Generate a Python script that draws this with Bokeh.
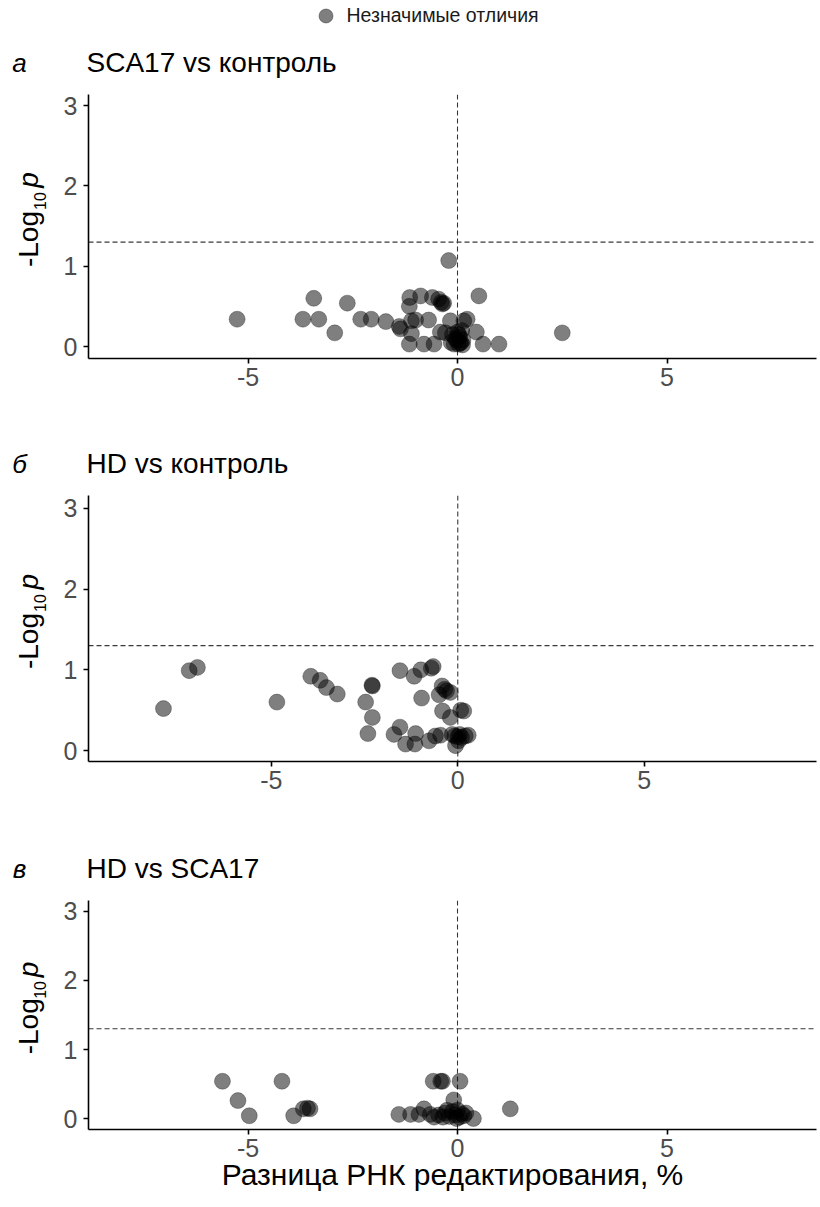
import math
from bokeh.plotting import figure
from bokeh.models import Range1d, Span, FixedTicker, Legend, LegendItem, Title
from bokeh.layouts import column, row
from bokeh.core.properties import value
from bokeh.embed import file_html
from bokeh.resources import INLINE

# ---------------- data ----------------
panel_letters = ["а", "б", "в"]
panel_titles = ["SCA17 vs контроль", "HD vs контроль", "HD vs SCA17"]
legend_label = "Незначимые отличия"
x_axis_title = "Разница РНК редактирования, %"
y_title_main = "-Log"
y_title_sub = "10"
y_title_var = "p"
x_ticks = [-5, 0, 5]
y_ticks = [0, 1, 2, 3]
p_threshold = 1.3  # -log10(0.05)

sca17_ctrl_diff = [-5.26, -3.43, -3.69, -3.31, -2.93, -2.63, -2.31, -2.06, -1.71, -1.39,
                   -1.36, -1.14, -1.15, -1.10, -1.00, -1.10, -1.15, -0.88, -0.80, -0.69,
                   -0.60, -0.56, -0.45, -0.39, -0.36, -0.33, -0.21, -0.17, -0.41, -0.29,
                   -0.08, -0.02, 0.02, 0.05, 0.08, 0.12, 0.15, 0.23, -0.12, 0.00,
                   0.10, 0.06, 0.45, 0.51, 0.61, 0.99, 2.50, -0.05, 0.03, 0.13,
                   -0.15]
sca17_ctrl_logp = [0.34, 0.60, 0.34, 0.34, 0.17, 0.54, 0.34, 0.34, 0.31, 0.25,
                   0.22, 0.61, 0.50, 0.32, 0.33, 0.16, 0.03, 0.63, 0.03, 0.33,
                   0.61, 0.03, 0.59, 0.55, 0.53, 0.54, 1.07, 0.32, 0.18, 0.17,
                   0.03, 0.08, 0.03, 0.12, 0.05, 0.02, 0.32, 0.34, 0.15, 0.18,
                   0.20, 0.04, 0.18, 0.63, 0.03, 0.03, 0.17, 0.10, 0.15, 0.08,
                   0.05]

hd_ctrl_diff = [-7.89, -7.20, -6.98, -4.85, -3.94, -3.69, -3.52, -3.23, -2.47, -2.29,
                -2.30, -2.29, -2.41, -1.55, -1.55, -1.71, -1.40, -1.17, -1.13, -1.15,
                -0.97, -0.99, -0.77, -0.71, -0.66, -0.60, -0.46, -0.42, -0.35, -0.30,
                -0.50, -0.20, -0.41, -0.20, 0.16, 0.08, -0.06, -0.08, 0.00, 0.05,
                0.10, 0.20, 0.28, -0.15, 0.02]
hd_ctrl_logp = [0.52, 0.99, 1.03, 0.60, 0.92, 0.87, 0.78, 0.70, 0.60, 0.80,
                0.81, 0.41, 0.21, 0.99, 0.29, 0.20, 0.08, 0.92, 0.21, 0.08,
                0.65, 1.00, 0.12, 1.02, 1.04, 0.18, 0.19, 0.80, 0.76, 0.74,
                0.69, 0.72, 0.49, 0.41, 0.49, 0.50, 0.06, 0.18, 0.17, 0.20,
                0.16, 0.18, 0.19, 0.20, 0.12]

hd_sca17_diff = [-5.61, -5.24, -4.97, -4.19, -3.91, -3.68, -3.52, -3.58, -1.40, -1.12,
                 -0.92, -0.80, -0.58, -0.40, -0.36, 0.06, -0.09, -0.56, -0.65, -0.45,
                 -0.30, -0.20, -0.12, -0.05, 0.00, 0.05, 0.10, 0.15, -0.25, 0.20,
                 0.38, 1.26, -0.02, -0.35]
hd_sca17_logp = [0.54, 0.26, 0.04, 0.54, 0.04, 0.14, 0.14, 0.15, 0.06, 0.06,
                 0.06, 0.14, 0.54, 0.54, 0.54, 0.54, 0.27, 0.02, 0.06, 0.05,
                 0.08, 0.03, 0.10, 0.05, 0.12, 0.02, 0.07, 0.04, 0.12, 0.08,
                 0.00, 0.14, 0.00, 0.02]

series = [(sca17_ctrl_diff, sca17_ctrl_logp),
          (hd_ctrl_diff, hd_ctrl_logp),
          (hd_sca17_diff, hd_sca17_logp)]

# ---------------- style / layout ----------------
FONT = "Liberation Sans"
PAGE_W = 818
YLAB_W = 50
MAIN_LEFT = 38
FRAME_W = 728
x_ranges = [(-8.807, 8.568), (-9.90, 9.617), (-8.807, 8.568)]
y_ranges = [(-0.149, 3.137), (-0.136, 3.161), (-0.159, 3.159)]
header_heights = [84, 53, 55]
frame_heights = [264, 266, 229]
main_top = 10
main_bottoms = [74, 74, 76]
POINT_COLOR = "black"
REF_LINE_COLOR = "#3a3a3a"


def blank_fig(w, h, top):
    """A figure without axes whose data units are page pixels (y downward as -y)."""
    f = figure(width=w, height=h, x_range=Range1d(0, w), y_range=Range1d(-(top + h), -top),
               output_backend="svg", toolbar_location=None, min_border=0,
               x_axis_location=None, y_axis_location=None, title=None)
    f.outline_line_color = None
    f.xgrid.visible = False
    f.ygrid.visible = False
    return f


def make_header(i, top):
    h = header_heights[i]
    f = blank_fig(PAGE_W, h, top)
    ty = -(top + h - 22)
    f.text(x=[19], y=[ty], text=[panel_letters[i]], text_font=value(FONT),
           text_font_size="26px", text_font_style="italic", text_align="center",
           text_baseline="middle", text_color="black")
    f.text(x=[86], y=[ty], text=[panel_titles[i]], text_font=value(FONT),
           text_font_size="28px", text_align="left", text_baseline="middle",
           text_color="black")
    if i == 0:
        key = f.scatter(x=[float("nan")], y=[float("nan")], size=15, marker="circle",
                        fill_color=POINT_COLOR, fill_alpha=0.5,
                        line_color=POINT_COLOR, line_alpha=0.35)
        legend = Legend(items=[LegendItem(label=legend_label, renderers=[key])],
                        location=(307.5, h - 32.5), orientation="horizontal",
                        glyph_width=35, glyph_height=35, label_height=35,
                        label_standoff=4, padding=0, margin=0, spacing=0,
                        border_line_color=None, background_fill_alpha=0,
                        label_text_font=FONT, label_text_font_size="19.5px",
                        label_text_color="#1a1a1a", label_text_baseline="middle")
        f.add_layout(legend)
    return f


def make_ylabel(i, top, h):
    f = blank_fig(YLAB_W, h, top)
    c = top + main_top + frame_heights[i] / 2.0
    f.text(x=[28], y=[-(c + 48.5)], text=[y_title_main], angle=math.pi / 2,
           text_font=value(FONT), text_font_size="28px", text_align="center",
           text_baseline="middle", text_color="black")
    f.text(x=[39], y=[-(c - 1.5)], text=[y_title_sub], angle=math.pi / 2,
           text_font=value(FONT), text_font_size="16px", text_align="center",
           text_baseline="middle", text_color="black")
    f.text(x=[28], y=[-(c - 29.5)], text=[y_title_var], angle=math.pi / 2,
           text_font=value(FONT), text_font_size="28px", text_font_style="italic",
           text_align="center", text_baseline="middle", text_color="black")
    return f


def make_main(i):
    xs, ys = series[i]
    fh = frame_heights[i]
    p = figure(frame_width=FRAME_W, frame_height=fh,
               x_range=Range1d(*x_ranges[i]), y_range=Range1d(*y_ranges[i]),
               output_backend="svg", toolbar_location=None, title=None,
               min_border_left=MAIN_LEFT, min_border_right=2,
               min_border_top=main_top, min_border_bottom=main_bottoms[i])
    p.outline_line_color = None
    p.xgrid.visible = False
    p.ygrid.visible = False

    p.add_layout(Span(location=p_threshold, dimension="width", line_color=REF_LINE_COLOR,
                      line_dash="5 3", line_width=1.1, level="underlay"))
    p.add_layout(Span(location=0, dimension="height", line_color=REF_LINE_COLOR,
                      line_dash="5 3", line_width=1.1, level="underlay"))

    p.scatter(xs, ys, size=16, marker="circle", fill_color=POINT_COLOR, fill_alpha=0.5,
              line_color=POINT_COLOR, line_alpha=0.35, line_width=0.8)

    for ax in (p.xaxis[0], p.yaxis[0]):
        ax.axis_line_width = 1.6
        ax.axis_line_color = "black"
        ax.major_tick_line_width = 1.6
        ax.major_tick_line_color = "black"
        ax.major_tick_out = 5
        ax.major_tick_in = 0
        ax.minor_tick_out = 0
        ax.minor_tick_in = 0
        ax.major_label_text_font = FONT
        ax.major_label_text_font_size = "25px"
        ax.major_label_text_color = "#4d4d4d"
    p.xaxis[0].ticker = FixedTicker(ticks=x_ticks)
    p.yaxis[0].ticker = FixedTicker(ticks=y_ticks)
    p.xaxis[0].major_label_overrides = {t: str(t) for t in x_ticks}
    p.xaxis[0].major_label_standoff = 4
    p.yaxis[0].major_label_standoff = 6

    if i == 2:
        p.add_layout(Title(text=x_axis_title, align="center", offset=5, standoff=-7,
                           text_font=FONT, text_font_size="30px",
                           text_font_style="normal", text_color="black"), "below")
    return p


blocks = []
top = 0
for i in range(3):
    hdr = make_header(i, top)
    top += header_heights[i]
    mh = main_top + frame_heights[i] + main_bottoms[i]
    ylab = make_ylabel(i, top, mh)
    main = make_main(i)
    blocks.append(hdr)
    blocks.append(row(ylab, main, spacing=0))
    top += mh

layout = column(*blocks, spacing=0)

open("out.html", "w").write(file_html(layout, INLINE))
